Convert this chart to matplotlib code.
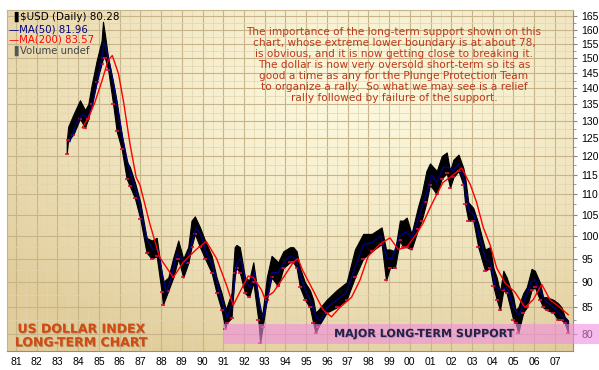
import numpy as np
import matplotlib.pyplot as plt
from matplotlib.ticker import FixedLocator, NullFormatter
import matplotlib.patheffects as pe

# price range (low / high)
t_price = [1983.45, 1983.52, 1983.77, 1984.09, 1984.33, 1984.49, 1984.65, 1984.89, 1985.13, 1985.20,
           1985.30, 1985.45, 1985.69, 1985.86, 1986.10, 1986.34, 1986.50, 1986.74, 1987.00, 1987.30,
           1987.55, 1987.79, 1988.03, 1988.09, 1988.35, 1988.59, 1988.83, 1989.07, 1989.31, 1989.47,
           1989.63, 1989.88, 1990.12, 1990.44, 1990.68, 1990.92, 1991.10, 1991.16, 1991.40, 1991.55,
           1991.64, 1991.80, 1992.05, 1992.25, 1992.45, 1992.69, 1992.78, 1992.90, 1993.10, 1993.33,
           1993.65, 1993.90, 1994.22, 1994.38, 1994.54, 1994.70, 1994.94, 1995.18, 1995.34, 1995.45,
           1995.58, 1995.99, 1996.47, 1996.95, 1997.35, 1997.75, 1998.16, 1998.64, 1998.85, 1999.04,
           1999.28, 1999.52, 1999.68, 1999.85, 2000.08, 2000.40, 2000.57, 2000.80, 2000.97, 2001.30,
           2001.54, 2001.78, 2001.94, 2002.10, 2002.35, 2002.58, 2002.67, 2002.82, 2003.06, 2003.30,
           2003.63, 2003.87, 2004.03, 2004.19, 2004.35, 2004.51, 2004.67, 2004.99, 2005.10, 2005.23,
           2005.47, 2005.64, 2005.87, 2006.03, 2006.27, 2006.43, 2006.60, 2006.92, 2007.15, 2007.32,
           2007.47, 2007.63]
low = [120.7, 124.5, 126.0, 130.7, 128.0, 130.7, 135.0, 142.0, 148.0, 150.0,
       150.0, 146.0, 135.0, 127.0, 122.0, 114.0, 112.0, 109.0, 104.0, 96.3,
       95.0, 95.5, 88.0, 85.5, 88.3, 91.0, 95.0, 91.0, 94.0, 97.5,
       100.5, 97.5, 95.0, 92.0, 87.8, 84.5, 81.0, 82.0, 83.0, 92.0,
       93.0, 92.0, 87.8, 87.0, 90.0, 82.6, 78.4, 81.3, 86.5, 91.0,
       89.2, 93.0, 94.2, 94.2, 93.0, 89.0, 86.5, 85.0, 82.0, 80.2,
       81.3, 84.0, 85.0, 86.5, 91.0, 95.0, 96.6, 98.2, 90.4, 93.0,
       93.0, 99.0, 97.5, 97.5, 97.0, 101.6, 103.6, 108.0, 112.4, 110.0,
       114.0, 115.4, 111.7, 114.3, 116.0, 112.4, 107.5, 103.6, 103.6, 97.5,
       92.4, 93.0, 89.2, 86.5, 84.5, 88.4, 87.8, 82.6, 82.0, 80.2,
       84.0, 85.0, 88.4, 89.0, 86.5, 85.0, 84.5, 84.0, 82.6, 82.6,
       82.0, 80.2]
high = [124.0, 128.3, 131.9, 136.3, 133.3, 135.0, 141.0, 149.0, 156.0, 163.0,
        158.0, 150.0, 142.0, 136.0, 126.0, 118.6, 117.0, 113.0, 108.0, 99.6,
        99.0, 99.6, 92.0, 90.0, 91.0, 95.2, 99.0, 95.0, 97.5, 103.6,
        104.6, 102.0, 99.0, 95.6, 91.0, 87.8, 85.0, 85.0, 87.8, 97.5,
        98.0, 97.5, 91.0, 90.4, 94.2, 87.0, 84.0, 84.0, 91.0, 95.6,
        94.2, 96.6, 97.5, 97.5, 96.6, 93.0, 90.0, 88.4, 86.5, 84.0,
        84.5, 86.5, 88.4, 90.0, 97.0, 100.5, 100.5, 102.0, 97.0, 97.0,
        96.6, 103.6, 103.6, 104.3, 100.5, 107.0, 110.0, 116.0, 118.0, 116.0,
        120.0, 121.0, 116.0, 119.0, 120.4, 116.8, 114.3, 108.0, 106.6, 103.0,
        97.0, 97.5, 93.0, 91.0, 88.0, 92.4, 91.0, 87.0, 84.5, 85.0,
        87.8, 89.0, 92.8, 92.4, 90.0, 87.0, 87.0, 86.5, 85.8, 85.0,
        83.2, 82.5]

t_ma50 = [1983.6, 1983.9, 1984.2, 1984.45, 1984.7, 1984.95, 1985.15, 1985.25, 1985.4, 1985.55,
          1985.75, 1985.95, 1986.15, 1986.4, 1986.6, 1986.85, 1987.1, 1987.35, 1987.6, 1987.85,
          1988.05, 1988.25, 1988.5, 1988.75, 1989.0, 1989.2, 1989.45, 1989.7, 1989.95, 1990.2,
          1990.45, 1990.7, 1990.95, 1991.2, 1991.45, 1991.65, 1991.85, 1992.1, 1992.3, 1992.5,
          1992.7, 1992.9, 1993.1, 1993.35, 1993.65, 1993.9, 1994.2, 1994.5, 1994.75, 1995.0,
          1995.25, 1995.5, 1995.7, 1996.0, 1996.5, 1996.95, 1997.35, 1997.75, 1998.15, 1998.6,
          1998.9, 1999.15, 1999.5, 1999.85, 2000.1, 2000.4, 2000.6, 2000.85, 2001.05, 2001.3,
          2001.6, 2001.85, 2002.1, 2002.35, 2002.6, 2002.85, 2003.1, 2003.35, 2003.65, 2003.9,
          2004.15, 2004.4, 2004.7, 2005.0, 2005.25, 2005.5, 2005.85, 2006.05, 2006.3, 2006.6,
          2006.95, 2007.2, 2007.5, 2007.65]
ma50 = [124, 129, 132, 131, 135, 143, 150, 155.5, 152, 147,
        140, 132, 125, 118, 114, 110, 104, 99, 97, 97,
        92, 88, 91, 96, 95, 94, 98, 102, 100, 96,
        94, 90, 86, 83, 86, 94, 95, 90, 89, 92,
        87, 83, 86, 92, 92, 94, 95.5, 95, 91, 88,
        86, 83, 82.5, 85, 86.5, 88, 93, 98, 98.5, 100,
        95, 95, 100, 101, 99.5, 104, 107, 111, 115, 113,
        117, 117, 116, 118, 114, 106, 105, 100, 95, 94,
        89, 88.5, 89, 85, 83.5, 86, 90, 90.5, 88, 86,
        85, 84, 82.5, 82]

t_ma200 = [1984.2, 1984.5, 1984.8, 1985.13, 1985.45, 1985.65, 1985.95, 1986.2, 1986.5, 1986.8,
           1986.98, 1987.45, 1987.93, 1988.59, 1989.07, 1989.7, 1990.18, 1990.68, 1991.16, 1991.48,
           1991.8, 1992.2, 1992.45, 1992.85, 1993.0, 1993.42, 1993.9, 1994.38, 1994.6, 1994.84,
           1995.33, 1995.82, 1996.22, 1996.63, 1997.19, 1997.59, 1997.99, 1998.56, 1999.04, 1999.44,
           1999.85, 2000.32, 2000.64, 2000.97, 2001.3, 2001.6, 2001.93, 2002.5, 2002.92, 2003.22,
           2003.54, 2003.87, 2004.19, 2004.59, 2005.07, 2005.55, 2005.95, 2006.36, 2006.76, 2007.24,
           2007.64]
ma200 = [128, 131, 135.5, 142, 149.3, 150.9, 144.7, 135.5, 123.4, 114.3,
         112.4, 103, 95.3, 91, 94.2, 97, 98.8, 95, 89.4, 85.4,
         88, 91.3, 91, 88.4, 86.8, 88, 91, 94.2, 95, 92.4,
         88.4, 84.5, 83.2, 85, 87, 90.4, 95.5, 98.2, 99.6, 97,
         97.5, 100.5, 103, 106.6, 110, 113, 114.3, 116.8, 112.4, 108,
         102, 98, 93, 89.9, 88, 85, 86.5, 89.6, 86.5, 85,
         83.6]

years = list(range(1981, 2008))
year_labels = ['%02d' % (y % 100) for y in years]
y_ticks = list(range(80, 170, 5))

W, H = 599, 370
fig = plt.figure(figsize=(W / 100, H / 100), dpi=100)
pos = [7 / W, 19 / H, 566 / W, 341 / H]

# gradient background
bg = fig.add_axes(pos, zorder=0)
yy, xx = np.mgrid[0:1:200j, 0:1:300j]
d = np.clip(np.sqrt(((xx - 0.62) / 0.8) ** 2 + ((yy - 0.75) / 0.85) ** 2), 0, 1)
c0 = np.array([253, 249, 222]) / 255
c1 = np.array([225, 205, 155]) / 255
img = c0 + (c1 - c0) * (d ** 1.3)[..., None]
bg.imshow(img, extent=[0, 1, 0, 1], origin='lower', aspect='auto')
bg.axis('off')

ax = fig.add_axes(pos, zorder=1)
ax.set_facecolor('none')
ax.set_yscale('log')

ax.fill_between(t_price, low, high, color='black', lw=0.8, zorder=2)
ax.plot(t_price, low, ls='none', marker='_', color='#e01040', ms=3, mew=1.2, zorder=2)
ax.plot(t_ma50, ma50, color='#000080', lw=1.0, zorder=3)
ax.plot(t_ma200, ma200, color='#ff0000', lw=1.0, zorder=3)

ax.set_xlim(1980.57, 2007.87)
ax.set_ylim(76.96, 167.4)

ax.axhspan(78.2, 81.9, xmin=(1991.05 - 1980.57) / 27.3, xmax=(W - 7) / 566,
           color='#f08ce0', alpha=0.6, lw=0, zorder=4, clip_on=False)

ax.xaxis.set_major_locator(FixedLocator(years))
ax.set_xticklabels(year_labels)
ax.xaxis.set_minor_locator(FixedLocator([y + 0.5 for y in years]))
ax.yaxis.set_major_locator(FixedLocator(y_ticks))
ax.yaxis.set_major_formatter(plt.FixedFormatter([str(v) for v in y_ticks]))
ax.yaxis.set_minor_locator(FixedLocator([v + 2.5 for v in y_ticks]))
ax.yaxis.set_minor_formatter(NullFormatter())
ax.yaxis.tick_right()
ax.grid(which='major', color='#c8b48a', lw=0.8, zorder=1)
ax.grid(which='minor', color='#e2d4ae', lw=0.5, zorder=1)
ax.set_axisbelow(True)
ax.tick_params(axis='y', which='major', length=3, color='#888888', labelsize=7.5, pad=3)
ax.tick_params(axis='y', which='minor', length=2, color='#888888')
ax.tick_params(axis='x', which='both', length=0, labelsize=7.5, pad=4)
for lab in ax.get_xticklabels() + ax.get_yticklabels():
    lab.set_fontfamily('Liberation Sans')
for s in ['left', 'top']:
    ax.spines[s].set_color('#c8b48a')
for s in ['right', 'bottom']:
    ax.spines[s].set_color('#9a8c78')

# annotation text
note = ("The importance of the long-term support shown on this\n"
        "chart, whose extreme lower boundary is at about 78,\n"
        "is obvious, and it is now getting close to breaking it.\n"
        "The dollar is now very oversold short-term so its as\n"
        "good a time as any for the Plunge Protection Team\n"
        "to organize a rally.  So what we may see is a relief\n"
        "rally followed by failure of the support.")
ax.text((394 - 7) / 566, (351 - 65) / 341, note, transform=ax.transAxes, ha='center', va='center',
        fontsize=7.55, color='#bc3a1c', linespacing=1.14, zorder=6)

ax.text((81 - 7) / 566, (351 - 336) / 341, "US DOLLAR INDEX\nLONG-TERM CHART", transform=ax.transAxes,
        ha='center', va='center', fontsize=9, fontweight='bold', color='#d04a12', linespacing=1.05,
        zorder=6, path_effects=[pe.withSimplePatchShadow(offset=(0.6, -0.6), shadow_rgbFace='#8a5a30', alpha=0.5)])

ax.text((424 - 7) / 566, (351 - 334) / 341, "MAJOR LONG-TERM SUPPORT", transform=ax.transAxes,
        ha='center', va='center', fontsize=8, fontweight='bold', color='#23234a', zorder=6,
        path_effects=[pe.withSimplePatchShadow(offset=(0.6, -0.6), shadow_rgbFace='#b070a0', alpha=0.6)])

# legend block
fig.text(10 / W, 1 - 17 / H, "\u2590", fontsize=7, color='black', va='center')
fig.text(20 / W, 1 - 17 / H, "$USD (Daily) 80.28", fontsize=7.5, color='black', va='center')
fig.text(9 / W, 1 - 29 / H, "\u2014MA(50) 81.96", fontsize=7.3, color='#000080', va='center')
fig.text(9 / W, 1 - 40 / H, "\u2014MA(200) 83.57", fontsize=7.3, color='#ff0000', va='center')
fig.text(10 / W, 1 - 51 / H, "\u2590", fontsize=7, color='#555555', va='center')
fig.text(20 / W, 1 - 51 / H, "Volume undef", fontsize=7.3, color='#444444', va='center')

fig.savefig('out.png', dpi=100)
